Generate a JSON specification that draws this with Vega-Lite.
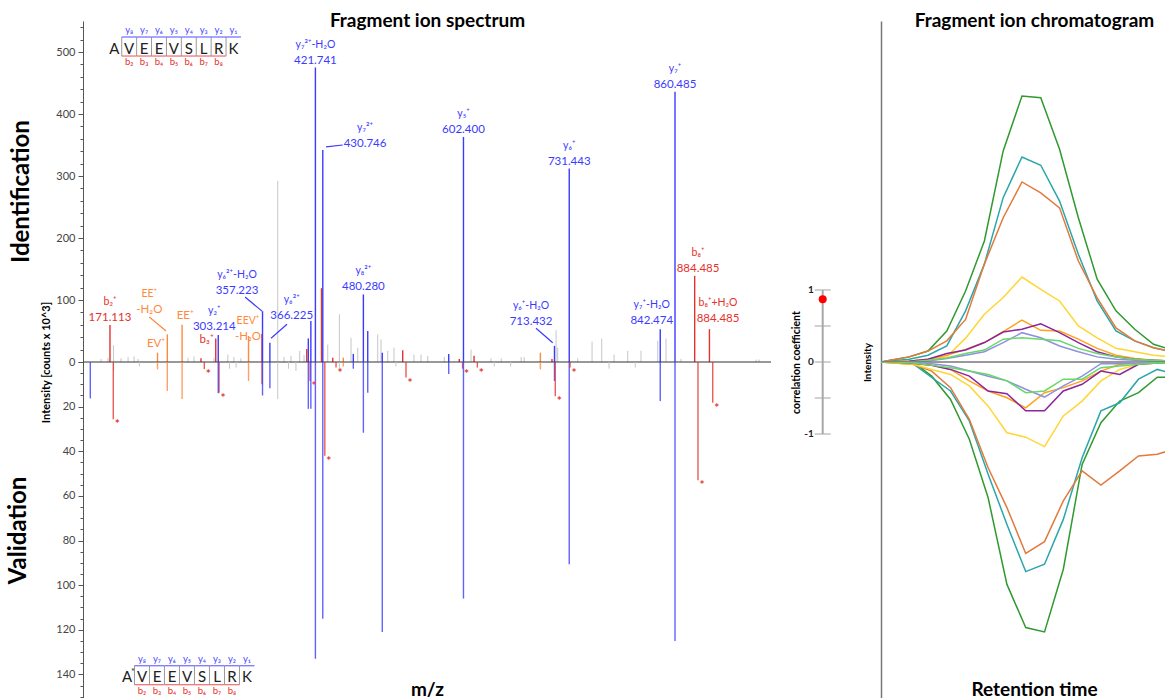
{
  "$schema": "https://vega.github.io/schema/vega-lite/v6.json",
  "background": "white",
  "padding": {"left": 6, "top": 11, "right": 0, "bottom": 0},
  "autosize": {"type": "pad"},
  "config": {
    "view": {"stroke": null},
    "font": "Lato",
    "axis": {"grid": false, "labelFont": "Lato", "titleFont": "Lato"},
    "title": {"font": "Lato"}
  },
  "columns": 3,
  "bounds": "flush",
  "align": "each",
  "spacing": {"row": 0, "column": 0},
  "resolve": {
    "scale": {"x": "independent", "y": "independent", "color": "independent"},
    "axis": {"x": "independent", "y": "independent"}
  },
  "datasets": {
    "identification": [
      {"mz": 160.2, "intensity": 5, "ion": "unassigned"},
      {"mz": 168.7, "intensity": 7, "ion": "unassigned"},
      {"mz": 175.5, "intensity": 27, "ion": "unassigned"},
      {"mz": 184.6, "intensity": 6, "ion": "unassigned"},
      {"mz": 193.2, "intensity": 8, "ion": "unassigned"},
      {"mz": 200.5, "intensity": 9, "ion": "unassigned"},
      {"mz": 205.3, "intensity": 5, "ion": "unassigned"},
      {"mz": 266.3, "intensity": 7, "ion": "unassigned"},
      {"mz": 273.6, "intensity": 9, "ion": "unassigned"},
      {"mz": 298.0, "intensity": 7, "ion": "unassigned"},
      {"mz": 314.9, "intensity": 12, "ion": "unassigned"},
      {"mz": 322.3, "intensity": 8, "ion": "unassigned"},
      {"mz": 330.8, "intensity": 6, "ion": "unassigned"},
      {"mz": 375.8, "intensity": 292, "ion": "unassigned"},
      {"mz": 383.4, "intensity": 8, "ion": "unassigned"},
      {"mz": 392.0, "intensity": 10, "ion": "unassigned"},
      {"mz": 402.6, "intensity": 18, "ion": "unassigned"},
      {"mz": 407.9, "intensity": 11, "ion": "unassigned"},
      {"mz": 436.8, "intensity": 28, "ion": "unassigned"},
      {"mz": 451.0, "intensity": 77, "ion": "unassigned"},
      {"mz": 465.2, "intensity": 39, "ion": "unassigned"},
      {"mz": 473.4, "intensity": 23, "ion": "unassigned"},
      {"mz": 497.8, "intensity": 44.6, "ion": "unassigned"},
      {"mz": 501.8, "intensity": 36.6, "ion": "unassigned"},
      {"mz": 510.0, "intensity": 18, "ion": "unassigned"},
      {"mz": 517.6, "intensity": 23, "ion": "unassigned"},
      {"mz": 542.0, "intensity": 12, "ion": "unassigned"},
      {"mz": 550.6, "intensity": 12, "ion": "unassigned"},
      {"mz": 558.8, "intensity": 10, "ion": "unassigned"},
      {"mz": 579.0, "intensity": 8, "ion": "unassigned"},
      {"mz": 611.6, "intensity": 20, "ion": "unassigned"},
      {"mz": 636.0, "intensity": 6, "ion": "unassigned"},
      {"mz": 648.5, "intensity": 6, "ion": "unassigned"},
      {"mz": 672.8, "intensity": 8, "ion": "unassigned"},
      {"mz": 676.5, "intensity": 8, "ion": "unassigned"},
      {"mz": 715.4, "intensity": 51, "ion": "unassigned"},
      {"mz": 717.4, "intensity": 23, "ion": "unassigned"},
      {"mz": 741.8, "intensity": 6, "ion": "unassigned"},
      {"mz": 759.3, "intensity": 33, "ion": "unassigned"},
      {"mz": 771.1, "intensity": 37.6, "ion": "unassigned"},
      {"mz": 786.1, "intensity": 12, "ion": "unassigned"},
      {"mz": 802.8, "intensity": 18, "ion": "unassigned"},
      {"mz": 819.0, "intensity": 18, "ion": "unassigned"},
      {"mz": 839.4, "intensity": 34, "ion": "unassigned"},
      {"mz": 849.5, "intensity": 38, "ion": "unassigned"},
      {"mz": 867.8, "intensity": 5, "ion": "unassigned"},
      {"mz": 959.3, "intensity": 4, "ion": "unassigned"},
      {"mz": 963.0, "intensity": 4, "ion": "unassigned"},
      {"mz": 171.113, "intensity": 59.7, "ion": "b"},
      {"mz": 229.118, "intensity": 15, "ion": "internal"},
      {"mz": 241.08, "intensity": 44.6, "ion": "internal"},
      {"mz": 259.09, "intensity": 60, "ion": "internal"},
      {"mz": 282.14, "intensity": 6, "ion": "b"},
      {"mz": 300.155, "intensity": 38, "ion": "b"},
      {"mz": 303.214, "intensity": 43.5, "ion": "y"},
      {"mz": 340.15, "intensity": 42, "ion": "internal"},
      {"mz": 356.6, "intensity": 45, "ion": "b"},
      {"mz": 357.223, "intensity": 82, "ion": "y"},
      {"mz": 366.225, "intensity": 31, "ion": "y"},
      {"mz": 411.19, "intensity": 21, "ion": "b"},
      {"mz": 413.1, "intensity": 38, "ion": "y"},
      {"mz": 416.2, "intensity": 66, "ion": "y"},
      {"mz": 421.741, "intensity": 475, "ion": "y"},
      {"mz": 429.198, "intensity": 119, "ion": "b"},
      {"mz": 430.746, "intensity": 342, "ion": "y"},
      {"mz": 442.9, "intensity": 7, "ion": "b"},
      {"mz": 455.8, "intensity": 7, "ion": "internal"},
      {"mz": 468.0, "intensity": 13, "ion": "y"},
      {"mz": 480.28, "intensity": 109, "ion": "y"},
      {"mz": 485.6, "intensity": 50, "ion": "y"},
      {"mz": 503.33, "intensity": 15, "ion": "y"},
      {"mz": 528.266, "intensity": 19, "ion": "b"},
      {"mz": 584.4, "intensity": 13, "ion": "y"},
      {"mz": 597.29, "intensity": 5, "ion": "b"},
      {"mz": 602.4, "intensity": 363, "ion": "y"},
      {"mz": 615.298, "intensity": 10, "ion": "b"},
      {"mz": 696.2, "intensity": 15, "ion": "internal"},
      {"mz": 710.37, "intensity": 5, "ion": "b"},
      {"mz": 713.432, "intensity": 26, "ion": "y"},
      {"mz": 731.443, "intensity": 312, "ion": "y"},
      {"mz": 842.474, "intensity": 53, "ion": "y"},
      {"mz": 860.485, "intensity": 436, "ion": "y"},
      {"mz": 884.485, "intensity": 139, "ion": "b"},
      {"mz": 902.496, "intensity": 53, "ion": "b"}
    ],
    "validation": [
      {"mz": 175.5, "intensity": 4, "ion": "unassigned", "star": false},
      {"mz": 207.0, "intensity": 2, "ion": "unassigned", "star": false},
      {"mz": 317.0, "intensity": 3, "ion": "unassigned", "star": false},
      {"mz": 325.0, "intensity": 2.5, "ion": "unassigned", "star": false},
      {"mz": 375.8, "intensity": 16.6, "ion": "unassigned", "star": false},
      {"mz": 389.0, "intensity": 3, "ion": "unassigned", "star": false},
      {"mz": 398.0, "intensity": 4, "ion": "unassigned", "star": false},
      {"mz": 451.0, "intensity": 3, "ion": "unassigned", "star": false},
      {"mz": 520.0, "intensity": 2, "ion": "unassigned", "star": false},
      {"mz": 640.0, "intensity": 2, "ion": "unassigned", "star": false},
      {"mz": 660.0, "intensity": 2, "ion": "unassigned", "star": false},
      {"mz": 780.0, "intensity": 3, "ion": "unassigned", "star": false},
      {"mz": 812.0, "intensity": 2.5, "ion": "unassigned", "star": false},
      {"mz": 147.113, "intensity": 16.3, "ion": "y", "star": false},
      {"mz": 175.138, "intensity": 25.7, "ion": "b", "star": true},
      {"mz": 229.118, "intensity": 3.3, "ion": "internal", "star": false},
      {"mz": 241.08, "intensity": 13, "ion": "internal", "star": false},
      {"mz": 259.09, "intensity": 16.6, "ion": "internal", "star": false},
      {"mz": 286.17, "intensity": 3.1, "ion": "b", "star": true},
      {"mz": 304.18, "intensity": 13.8, "ion": "b", "star": true},
      {"mz": 303.214, "intensity": 14, "ion": "y", "star": false},
      {"mz": 340.15, "intensity": 8.5, "ion": "internal", "star": false},
      {"mz": 356.6, "intensity": 10, "ion": "b", "star": false},
      {"mz": 357.223, "intensity": 15, "ion": "y", "star": false},
      {"mz": 366.225, "intensity": 11.8, "ion": "y", "star": false},
      {"mz": 415.22, "intensity": 8.5, "ion": "b", "star": true},
      {"mz": 413.1, "intensity": 21, "ion": "y", "star": false},
      {"mz": 416.2, "intensity": 21, "ion": "y", "star": false},
      {"mz": 421.741, "intensity": 133, "ion": "y", "star": false},
      {"mz": 430.746, "intensity": 115, "ion": "y", "star": false},
      {"mz": 433.22, "intensity": 42, "ion": "b", "star": true},
      {"mz": 446.9, "intensity": 2.5, "ion": "b", "star": true},
      {"mz": 455.8, "intensity": 2, "ion": "internal", "star": false},
      {"mz": 468.0, "intensity": 3, "ion": "y", "star": false},
      {"mz": 480.28, "intensity": 31.7, "ion": "y", "star": false},
      {"mz": 485.6, "intensity": 13.8, "ion": "y", "star": false},
      {"mz": 503.33, "intensity": 121, "ion": "y", "star": false},
      {"mz": 532.29, "intensity": 7, "ion": "b", "star": true},
      {"mz": 584.4, "intensity": 5.4, "ion": "y", "star": false},
      {"mz": 601.32, "intensity": 3, "ion": "b", "star": true},
      {"mz": 602.4, "intensity": 106, "ion": "y", "star": false},
      {"mz": 619.32, "intensity": 2.5, "ion": "b", "star": true},
      {"mz": 696.2, "intensity": 3.3, "ion": "internal", "star": false},
      {"mz": 713.432, "intensity": 8.5, "ion": "y", "star": false},
      {"mz": 714.4, "intensity": 15.3, "ion": "b", "star": true},
      {"mz": 731.443, "intensity": 90.6, "ion": "y", "star": false},
      {"mz": 732.41, "intensity": 2.5, "ion": "b", "star": true},
      {"mz": 842.474, "intensity": 17.5, "ion": "y", "star": false},
      {"mz": 860.485, "intensity": 125, "ion": "y", "star": false},
      {"mz": 888.51, "intensity": 53, "ion": "b", "star": true},
      {"mz": 906.52, "intensity": 18.3, "ion": "b", "star": true}
    ],
    "annotations": [
      {"ion": "y", "name": "y₇²⁺-H₂O", "value": "421.741", "labelMz": 421.741, "labelIntensity": 475},
      {"ion": "y", "name": "y₇²⁺", "value": "430.746", "labelMz": 482.3, "labelIntensity": 340.8},
      {"ion": "y", "name": "y₅⁺", "value": "602.400", "labelMz": 602.4, "labelIntensity": 363},
      {"ion": "y", "name": "y₆⁺", "value": "731.443", "labelMz": 731.443, "labelIntensity": 312},
      {"ion": "y", "name": "y₇⁺", "value": "860.485", "labelMz": 860.485, "labelIntensity": 436},
      {"ion": "b", "name": "b₈⁺", "value": "884.485", "labelMz": 888.6, "labelIntensity": 139},
      {"ion": "b", "name": "b₈⁺+H₂O", "value": "884.485", "labelMz": 913.0, "labelIntensity": 58},
      {"ion": "y", "name": "y₇⁺-H₂O", "value": "842.474", "labelMz": 832.1, "labelIntensity": 55.3},
      {"ion": "y", "name": "y₆⁺-H₂O", "value": "713.432", "labelMz": 684.8, "labelIntensity": 53.2},
      {"ion": "y", "name": "y₈²⁺", "value": "480.280", "labelMz": 480.28, "labelIntensity": 109},
      {"ion": "y", "name": "y₆²⁺", "value": "366.225", "labelMz": 392.8, "labelIntensity": 62.4},
      {"ion": "y", "name": "y₆²⁺-H₂O", "value": "357.223", "labelMz": 326.1, "labelIntensity": 103.7},
      {"ion": "y", "name": "y₂⁺", "value": "303.214", "labelMz": 298.4, "labelIntensity": 44.7},
      {"ion": "b", "name": "", "value": "b₃⁺", "labelMz": 289.1, "labelIntensity": 24.7},
      {"ion": "b", "name": "b₂⁺", "value": "171.113", "labelMz": 171.113, "labelIntensity": 59.7},
      {"ion": "internal", "name": "EE⁺", "value": "-H₂O", "labelMz": 219.1, "labelIntensity": 73},
      {"ion": "internal", "name": "", "value": "EV⁺", "labelMz": 227.3, "labelIntensity": 17.7},
      {"ion": "internal", "name": "", "value": "EE⁺", "labelMz": 263.0, "labelIntensity": 62.4},
      {"ion": "internal", "name": "EEV⁺", "value": "-H₂O", "labelMz": 339.5, "labelIntensity": 28.5}
    ],
    "leaders": [
      {"ion": "y", "mz": 434.7, "intensity": 347, "labelMz": 455.1, "labelIntensity": 350},
      {"ion": "y", "mz": 711.3, "intensity": 31.1, "labelMz": 690.9, "labelIntensity": 54.4},
      {"ion": "y", "mz": 367.6, "intensity": 38.2, "labelMz": 387.1, "labelIntensity": 60.8},
      {"ion": "y", "mz": 356.6, "intensity": 82, "labelMz": 335.9, "labelIntensity": 104.8},
      {"ion": "internal", "mz": 239.5, "intensity": 50, "labelMz": 219.1, "labelIntensity": 72.6}
    ],
    "sequence": [
      {"residue": "A", "position": 1, "start": 0.5, "end": 1.5, "yIon": "", "bIon": ""},
      {"residue": "V", "position": 2, "start": 1.5, "end": 2.5, "yIon": "y₈", "bIon": "b₂"},
      {"residue": "E", "position": 3, "start": 2.5, "end": 3.5, "yIon": "y₇", "bIon": "b₃"},
      {"residue": "E", "position": 4, "start": 3.5, "end": 4.5, "yIon": "y₆", "bIon": "b₄"},
      {"residue": "V", "position": 5, "start": 4.5, "end": 5.5, "yIon": "y₅", "bIon": "b₅"},
      {"residue": "S", "position": 6, "start": 5.5, "end": 6.5, "yIon": "y₄", "bIon": "b₆"},
      {"residue": "L", "position": 7, "start": 6.5, "end": 7.5, "yIon": "y₃", "bIon": "b₇"},
      {"residue": "R", "position": 8, "start": 7.5, "end": 8.5, "yIon": "y₂", "bIon": "b₈"},
      {"residue": "K", "position": 9, "start": 8.5, "end": 9.5, "yIon": "y₁", "bIon": ""}
    ],
    "modification": [{"position": 1, "symbol": "*"}],
    "correlation": [{"coefficient": 0.87}],
    "corrScale": [
      {"value": 1, "label": "1"},
      {"value": 0.5, "label": ""},
      {"value": 0, "label": "0"},
      {"value": -0.5, "label": ""},
      {"value": -1, "label": "-1"}
    ],
    "chromatogram": [
      {"run": "identification", "trace": "trace 1", "rt": 29.95, "intensity": 0},
      {"run": "identification", "trace": "trace 1", "rt": 30.0, "intensity": 0.5},
      {"run": "identification", "trace": "trace 1", "rt": 30.1, "intensity": 1.5},
      {"run": "identification", "trace": "trace 1", "rt": 30.2, "intensity": 3.2},
      {"run": "identification", "trace": "trace 1", "rt": 30.3, "intensity": 9.1},
      {"run": "identification", "trace": "trace 1", "rt": 30.4, "intensity": 20.8},
      {"run": "identification", "trace": "trace 1", "rt": 30.5, "intensity": 35.5},
      {"run": "identification", "trace": "trace 1", "rt": 30.6, "intensity": 61.9},
      {"run": "identification", "trace": "trace 1", "rt": 30.7, "intensity": 78},
      {"run": "identification", "trace": "trace 1", "rt": 30.8, "intensity": 77.5},
      {"run": "identification", "trace": "trace 1", "rt": 30.9, "intensity": 62.4},
      {"run": "identification", "trace": "trace 1", "rt": 31.0, "intensity": 42.3},
      {"run": "identification", "trace": "trace 1", "rt": 31.1, "intensity": 24.3},
      {"run": "identification", "trace": "trace 1", "rt": 31.2, "intensity": 15},
      {"run": "identification", "trace": "trace 1", "rt": 31.3, "intensity": 9.6},
      {"run": "identification", "trace": "trace 1", "rt": 31.4, "intensity": 5.2},
      {"run": "identification", "trace": "trace 1", "rt": 31.5, "intensity": 3.5},
      {"run": "identification", "trace": "trace 2", "rt": 29.95, "intensity": 0},
      {"run": "identification", "trace": "trace 2", "rt": 30.0, "intensity": 0.3},
      {"run": "identification", "trace": "trace 2", "rt": 30.1, "intensity": 0.8},
      {"run": "identification", "trace": "trace 2", "rt": 30.2, "intensity": 2},
      {"run": "identification", "trace": "trace 2", "rt": 30.3, "intensity": 4.7},
      {"run": "identification", "trace": "trace 2", "rt": 30.4, "intensity": 15},
      {"run": "identification", "trace": "trace 2", "rt": 30.5, "intensity": 28.7},
      {"run": "identification", "trace": "trace 2", "rt": 30.6, "intensity": 48.2},
      {"run": "identification", "trace": "trace 2", "rt": 30.7, "intensity": 60.1},
      {"run": "identification", "trace": "trace 2", "rt": 30.8, "intensity": 57.7},
      {"run": "identification", "trace": "trace 2", "rt": 30.9, "intensity": 47.2},
      {"run": "identification", "trace": "trace 2", "rt": 31.0, "intensity": 31.6},
      {"run": "identification", "trace": "trace 2", "rt": 31.1, "intensity": 17.9},
      {"run": "identification", "trace": "trace 2", "rt": 31.2, "intensity": 9.1},
      {"run": "identification", "trace": "trace 2", "rt": 31.3, "intensity": 6.2},
      {"run": "identification", "trace": "trace 2", "rt": 31.4, "intensity": 4.2},
      {"run": "identification", "trace": "trace 2", "rt": 31.5, "intensity": 3},
      {"run": "identification", "trace": "trace 3", "rt": 29.95, "intensity": 0},
      {"run": "identification", "trace": "trace 3", "rt": 30.0, "intensity": 0.5},
      {"run": "identification", "trace": "trace 3", "rt": 30.1, "intensity": 1.5},
      {"run": "identification", "trace": "trace 3", "rt": 30.2, "intensity": 3.2},
      {"run": "identification", "trace": "trace 3", "rt": 30.3, "intensity": 6.2},
      {"run": "identification", "trace": "trace 3", "rt": 30.4, "intensity": 12.5},
      {"run": "identification", "trace": "trace 3", "rt": 30.5, "intensity": 28.7},
      {"run": "identification", "trace": "trace 3", "rt": 30.6, "intensity": 42.3},
      {"run": "identification", "trace": "trace 3", "rt": 30.7, "intensity": 52.8},
      {"run": "identification", "trace": "trace 3", "rt": 30.8, "intensity": 49.6},
      {"run": "identification", "trace": "trace 3", "rt": 30.9, "intensity": 45.2},
      {"run": "identification", "trace": "trace 3", "rt": 31.0, "intensity": 29.6},
      {"run": "identification", "trace": "trace 3", "rt": 31.1, "intensity": 18.8},
      {"run": "identification", "trace": "trace 3", "rt": 31.2, "intensity": 10},
      {"run": "identification", "trace": "trace 3", "rt": 31.3, "intensity": 6.2},
      {"run": "identification", "trace": "trace 3", "rt": 31.4, "intensity": 4.2},
      {"run": "identification", "trace": "trace 3", "rt": 31.5, "intensity": 3},
      {"run": "identification", "trace": "trace 4", "rt": 29.95, "intensity": 0},
      {"run": "identification", "trace": "trace 4", "rt": 30.0, "intensity": 0},
      {"run": "identification", "trace": "trace 4", "rt": 30.1, "intensity": 0.3},
      {"run": "identification", "trace": "trace 4", "rt": 30.2, "intensity": 0.8},
      {"run": "identification", "trace": "trace 4", "rt": 30.3, "intensity": 1.5},
      {"run": "identification", "trace": "trace 4", "rt": 30.4, "intensity": 7},
      {"run": "identification", "trace": "trace 4", "rt": 30.5, "intensity": 14},
      {"run": "identification", "trace": "trace 4", "rt": 30.6, "intensity": 18.9},
      {"run": "identification", "trace": "trace 4", "rt": 30.7, "intensity": 24.9},
      {"run": "identification", "trace": "trace 4", "rt": 30.8, "intensity": 21.3},
      {"run": "identification", "trace": "trace 4", "rt": 30.9, "intensity": 17.9},
      {"run": "identification", "trace": "trace 4", "rt": 31.0, "intensity": 10.6},
      {"run": "identification", "trace": "trace 4", "rt": 31.1, "intensity": 7.1},
      {"run": "identification", "trace": "trace 4", "rt": 31.2, "intensity": 4},
      {"run": "identification", "trace": "trace 4", "rt": 31.3, "intensity": 3},
      {"run": "identification", "trace": "trace 4", "rt": 31.4, "intensity": 2},
      {"run": "identification", "trace": "trace 4", "rt": 31.5, "intensity": 1.5},
      {"run": "identification", "trace": "trace 5", "rt": 29.95, "intensity": 0},
      {"run": "identification", "trace": "trace 5", "rt": 30.0, "intensity": 0},
      {"run": "identification", "trace": "trace 5", "rt": 30.1, "intensity": 0.2},
      {"run": "identification", "trace": "trace 5", "rt": 30.2, "intensity": 0.8},
      {"run": "identification", "trace": "trace 5", "rt": 30.3, "intensity": 2},
      {"run": "identification", "trace": "trace 5", "rt": 30.4, "intensity": 3.7},
      {"run": "identification", "trace": "trace 5", "rt": 30.5, "intensity": 5.7},
      {"run": "identification", "trace": "trace 5", "rt": 30.6, "intensity": 8.9},
      {"run": "identification", "trace": "trace 5", "rt": 30.7, "intensity": 12.3},
      {"run": "identification", "trace": "trace 5", "rt": 30.8, "intensity": 9.3},
      {"run": "identification", "trace": "trace 5", "rt": 30.9, "intensity": 9.1},
      {"run": "identification", "trace": "trace 5", "rt": 31.0, "intensity": 6.7},
      {"run": "identification", "trace": "trace 5", "rt": 31.1, "intensity": 4},
      {"run": "identification", "trace": "trace 5", "rt": 31.2, "intensity": 2},
      {"run": "identification", "trace": "trace 5", "rt": 31.3, "intensity": 1},
      {"run": "identification", "trace": "trace 5", "rt": 31.4, "intensity": 0.5},
      {"run": "identification", "trace": "trace 5", "rt": 31.5, "intensity": 0.3},
      {"run": "identification", "trace": "trace 6", "rt": 29.95, "intensity": 0},
      {"run": "identification", "trace": "trace 6", "rt": 30.0, "intensity": 0},
      {"run": "identification", "trace": "trace 6", "rt": 30.1, "intensity": 0.2},
      {"run": "identification", "trace": "trace 6", "rt": 30.2, "intensity": 0.8},
      {"run": "identification", "trace": "trace 6", "rt": 30.3, "intensity": 2.5},
      {"run": "identification", "trace": "trace 6", "rt": 30.4, "intensity": 3.5},
      {"run": "identification", "trace": "trace 6", "rt": 30.5, "intensity": 5.7},
      {"run": "identification", "trace": "trace 6", "rt": 30.6, "intensity": 8.8},
      {"run": "identification", "trace": "trace 6", "rt": 30.7, "intensity": 9.6},
      {"run": "identification", "trace": "trace 6", "rt": 30.8, "intensity": 11.2},
      {"run": "identification", "trace": "trace 6", "rt": 30.9, "intensity": 8.6},
      {"run": "identification", "trace": "trace 6", "rt": 31.0, "intensity": 5.7},
      {"run": "identification", "trace": "trace 6", "rt": 31.1, "intensity": 3},
      {"run": "identification", "trace": "trace 6", "rt": 31.2, "intensity": 1.5},
      {"run": "identification", "trace": "trace 6", "rt": 31.3, "intensity": 0.8},
      {"run": "identification", "trace": "trace 6", "rt": 31.4, "intensity": 0.5},
      {"run": "identification", "trace": "trace 6", "rt": 31.5, "intensity": 0.3},
      {"run": "identification", "trace": "trace 7", "rt": 29.95, "intensity": 0},
      {"run": "identification", "trace": "trace 7", "rt": 30.0, "intensity": 0},
      {"run": "identification", "trace": "trace 7", "rt": 30.1, "intensity": 0},
      {"run": "identification", "trace": "trace 7", "rt": 30.2, "intensity": 0.3},
      {"run": "identification", "trace": "trace 7", "rt": 30.3, "intensity": 1},
      {"run": "identification", "trace": "trace 7", "rt": 30.4, "intensity": 2},
      {"run": "identification", "trace": "trace 7", "rt": 30.5, "intensity": 3},
      {"run": "identification", "trace": "trace 7", "rt": 30.6, "intensity": 5.7},
      {"run": "identification", "trace": "trace 7", "rt": 30.7, "intensity": 8.6},
      {"run": "identification", "trace": "trace 7", "rt": 30.8, "intensity": 7.1},
      {"run": "identification", "trace": "trace 7", "rt": 30.9, "intensity": 4.7},
      {"run": "identification", "trace": "trace 7", "rt": 31.0, "intensity": 3},
      {"run": "identification", "trace": "trace 7", "rt": 31.1, "intensity": 1.5},
      {"run": "identification", "trace": "trace 7", "rt": 31.2, "intensity": 0.8},
      {"run": "identification", "trace": "trace 7", "rt": 31.3, "intensity": 0.5},
      {"run": "identification", "trace": "trace 7", "rt": 31.4, "intensity": 0.3},
      {"run": "identification", "trace": "trace 7", "rt": 31.5, "intensity": 0.2},
      {"run": "identification", "trace": "trace 8", "rt": 29.95, "intensity": 0},
      {"run": "identification", "trace": "trace 8", "rt": 30.0, "intensity": 0},
      {"run": "identification", "trace": "trace 8", "rt": 30.1, "intensity": 0},
      {"run": "identification", "trace": "trace 8", "rt": 30.2, "intensity": 0.5},
      {"run": "identification", "trace": "trace 8", "rt": 30.3, "intensity": 1.2},
      {"run": "identification", "trace": "trace 8", "rt": 30.4, "intensity": 2.5},
      {"run": "identification", "trace": "trace 8", "rt": 30.5, "intensity": 3.5},
      {"run": "identification", "trace": "trace 8", "rt": 30.6, "intensity": 6.7},
      {"run": "identification", "trace": "trace 8", "rt": 30.7, "intensity": 7.1},
      {"run": "identification", "trace": "trace 8", "rt": 30.8, "intensity": 6.7},
      {"run": "identification", "trace": "trace 8", "rt": 30.9, "intensity": 6.2},
      {"run": "identification", "trace": "trace 8", "rt": 31.0, "intensity": 4},
      {"run": "identification", "trace": "trace 8", "rt": 31.1, "intensity": 2.5},
      {"run": "identification", "trace": "trace 8", "rt": 31.2, "intensity": 1.5},
      {"run": "identification", "trace": "trace 8", "rt": 31.3, "intensity": 0.8},
      {"run": "identification", "trace": "trace 8", "rt": 31.4, "intensity": 0.5},
      {"run": "identification", "trace": "trace 8", "rt": 31.5, "intensity": 0.3},
      {"run": "validation", "trace": "trace 1", "rt": 29.95, "intensity": 0},
      {"run": "validation", "trace": "trace 1", "rt": 30.02, "intensity": 0},
      {"run": "validation", "trace": "trace 1", "rt": 30.12, "intensity": 0},
      {"run": "validation", "trace": "trace 1", "rt": 30.22, "intensity": 4.2},
      {"run": "validation", "trace": "trace 1", "rt": 30.32, "intensity": 11.1},
      {"run": "validation", "trace": "trace 1", "rt": 30.42, "intensity": 22.9},
      {"run": "validation", "trace": "trace 1", "rt": 30.52, "intensity": 40.3},
      {"run": "validation", "trace": "trace 1", "rt": 30.62, "intensity": 66},
      {"run": "validation", "trace": "trace 1", "rt": 30.72, "intensity": 78.8},
      {"run": "validation", "trace": "trace 1", "rt": 30.82, "intensity": 80.1},
      {"run": "validation", "trace": "trace 1", "rt": 30.92, "intensity": 61.5},
      {"run": "validation", "trace": "trace 1", "rt": 31.02, "intensity": 30.4},
      {"run": "validation", "trace": "trace 1", "rt": 31.12, "intensity": 18},
      {"run": "validation", "trace": "trace 1", "rt": 31.22, "intensity": 11.6},
      {"run": "validation", "trace": "trace 1", "rt": 31.32, "intensity": 9.1},
      {"run": "validation", "trace": "trace 1", "rt": 31.42, "intensity": 4.5},
      {"run": "validation", "trace": "trace 1", "rt": 31.52, "intensity": 4.5},
      {"run": "validation", "trace": "trace 2", "rt": 29.95, "intensity": 0},
      {"run": "validation", "trace": "trace 2", "rt": 30.02, "intensity": 0},
      {"run": "validation", "trace": "trace 2", "rt": 30.12, "intensity": 0.5},
      {"run": "validation", "trace": "trace 2", "rt": 30.22, "intensity": 4.6},
      {"run": "validation", "trace": "trace 2", "rt": 30.32, "intensity": 8.6},
      {"run": "validation", "trace": "trace 2", "rt": 30.42, "intensity": 17.5},
      {"run": "validation", "trace": "trace 2", "rt": 30.52, "intensity": 33.3},
      {"run": "validation", "trace": "trace 2", "rt": 30.62, "intensity": 48.2},
      {"run": "validation", "trace": "trace 2", "rt": 30.72, "intensity": 62.2},
      {"run": "validation", "trace": "trace 2", "rt": 30.82, "intensity": 60},
      {"run": "validation", "trace": "trace 2", "rt": 30.92, "intensity": 46.7},
      {"run": "validation", "trace": "trace 2", "rt": 31.02, "intensity": 28.4},
      {"run": "validation", "trace": "trace 2", "rt": 31.12, "intensity": 14.5},
      {"run": "validation", "trace": "trace 2", "rt": 31.22, "intensity": 12.1},
      {"run": "validation", "trace": "trace 2", "rt": 31.32, "intensity": 5.1},
      {"run": "validation", "trace": "trace 2", "rt": 31.42, "intensity": 2.2},
      {"run": "validation", "trace": "trace 2", "rt": 31.52, "intensity": 3.7},
      {"run": "validation", "trace": "trace 3", "rt": 29.95, "intensity": 0},
      {"run": "validation", "trace": "trace 3", "rt": 30.02, "intensity": 0.3},
      {"run": "validation", "trace": "trace 3", "rt": 30.12, "intensity": 0.7},
      {"run": "validation", "trace": "trace 3", "rt": 30.22, "intensity": 2.7},
      {"run": "validation", "trace": "trace 3", "rt": 30.32, "intensity": 7.6},
      {"run": "validation", "trace": "trace 3", "rt": 30.42, "intensity": 17},
      {"run": "validation", "trace": "trace 3", "rt": 30.52, "intensity": 31.4},
      {"run": "validation", "trace": "trace 3", "rt": 30.62, "intensity": 43.2},
      {"run": "validation", "trace": "trace 3", "rt": 30.72, "intensity": 56.8},
      {"run": "validation", "trace": "trace 3", "rt": 30.82, "intensity": 53.3},
      {"run": "validation", "trace": "trace 3", "rt": 30.92, "intensity": 41.2},
      {"run": "validation", "trace": "trace 3", "rt": 31.02, "intensity": 32.3},
      {"run": "validation", "trace": "trace 3", "rt": 31.12, "intensity": 36.5},
      {"run": "validation", "trace": "trace 3", "rt": 31.22, "intensity": 32.3},
      {"run": "validation", "trace": "trace 3", "rt": 31.32, "intensity": 27.9},
      {"run": "validation", "trace": "trace 3", "rt": 31.42, "intensity": 27.4},
      {"run": "validation", "trace": "trace 3", "rt": 31.52, "intensity": 25.6},
      {"run": "validation", "trace": "trace 4", "rt": 29.95, "intensity": 0},
      {"run": "validation", "trace": "trace 4", "rt": 30.02, "intensity": 0.3},
      {"run": "validation", "trace": "trace 4", "rt": 30.12, "intensity": 0.7},
      {"run": "validation", "trace": "trace 4", "rt": 30.22, "intensity": 2.2},
      {"run": "validation", "trace": "trace 4", "rt": 30.32, "intensity": 3.7},
      {"run": "validation", "trace": "trace 4", "rt": 30.42, "intensity": 7.1},
      {"run": "validation", "trace": "trace 4", "rt": 30.52, "intensity": 13.1},
      {"run": "validation", "trace": "trace 4", "rt": 30.62, "intensity": 21},
      {"run": "validation", "trace": "trace 4", "rt": 30.72, "intensity": 22.3},
      {"run": "validation", "trace": "trace 4", "rt": 30.82, "intensity": 25.1},
      {"run": "validation", "trace": "trace 4", "rt": 30.92, "intensity": 16},
      {"run": "validation", "trace": "trace 4", "rt": 31.02, "intensity": 11.6},
      {"run": "validation", "trace": "trace 4", "rt": 31.12, "intensity": 5.6},
      {"run": "validation", "trace": "trace 4", "rt": 31.22, "intensity": 2.2},
      {"run": "validation", "trace": "trace 4", "rt": 31.32, "intensity": 0.7},
      {"run": "validation", "trace": "trace 4", "rt": 31.42, "intensity": 0.3},
      {"run": "validation", "trace": "trace 4", "rt": 31.52, "intensity": 0.2},
      {"run": "validation", "trace": "trace 5", "rt": 29.95, "intensity": 0},
      {"run": "validation", "trace": "trace 5", "rt": 30.02, "intensity": 0.3},
      {"run": "validation", "trace": "trace 5", "rt": 30.12, "intensity": 0.5},
      {"run": "validation", "trace": "trace 5", "rt": 30.22, "intensity": 1},
      {"run": "validation", "trace": "trace 5", "rt": 30.32, "intensity": 2.2},
      {"run": "validation", "trace": "trace 5", "rt": 30.42, "intensity": 5.6},
      {"run": "validation", "trace": "trace 5", "rt": 30.52, "intensity": 8.6},
      {"run": "validation", "trace": "trace 5", "rt": 30.62, "intensity": 10.6},
      {"run": "validation", "trace": "trace 5", "rt": 30.72, "intensity": 13.6},
      {"run": "validation", "trace": "trace 5", "rt": 30.82, "intensity": 9.1},
      {"run": "validation", "trace": "trace 5", "rt": 30.92, "intensity": 7.6},
      {"run": "validation", "trace": "trace 5", "rt": 31.02, "intensity": 5.6},
      {"run": "validation", "trace": "trace 5", "rt": 31.12, "intensity": 2.7},
      {"run": "validation", "trace": "trace 5", "rt": 31.22, "intensity": 0.7},
      {"run": "validation", "trace": "trace 5", "rt": 31.32, "intensity": 0.3},
      {"run": "validation", "trace": "trace 5", "rt": 31.42, "intensity": 0.2},
      {"run": "validation", "trace": "trace 5", "rt": 31.52, "intensity": 0.2},
      {"run": "validation", "trace": "trace 6", "rt": 29.95, "intensity": 0},
      {"run": "validation", "trace": "trace 6", "rt": 30.02, "intensity": 0},
      {"run": "validation", "trace": "trace 6", "rt": 30.12, "intensity": 0.3},
      {"run": "validation", "trace": "trace 6", "rt": 30.22, "intensity": 1},
      {"run": "validation", "trace": "trace 6", "rt": 30.32, "intensity": 2.2},
      {"run": "validation", "trace": "trace 6", "rt": 30.42, "intensity": 4.2},
      {"run": "validation", "trace": "trace 6", "rt": 30.52, "intensity": 8.6},
      {"run": "validation", "trace": "trace 6", "rt": 30.62, "intensity": 9.4},
      {"run": "validation", "trace": "trace 6", "rt": 30.72, "intensity": 14.5},
      {"run": "validation", "trace": "trace 6", "rt": 30.82, "intensity": 14.5},
      {"run": "validation", "trace": "trace 6", "rt": 30.92, "intensity": 8.6},
      {"run": "validation", "trace": "trace 6", "rt": 31.02, "intensity": 6.6},
      {"run": "validation", "trace": "trace 6", "rt": 31.12, "intensity": 2.7},
      {"run": "validation", "trace": "trace 6", "rt": 31.22, "intensity": 3.7},
      {"run": "validation", "trace": "trace 6", "rt": 31.32, "intensity": 0.7},
      {"run": "validation", "trace": "trace 6", "rt": 31.42, "intensity": 0.3},
      {"run": "validation", "trace": "trace 6", "rt": 31.52, "intensity": 0.2},
      {"run": "validation", "trace": "trace 7", "rt": 29.95, "intensity": 0},
      {"run": "validation", "trace": "trace 7", "rt": 30.02, "intensity": 0},
      {"run": "validation", "trace": "trace 7", "rt": 30.12, "intensity": 0},
      {"run": "validation", "trace": "trace 7", "rt": 30.22, "intensity": 0.5},
      {"run": "validation", "trace": "trace 7", "rt": 30.32, "intensity": 1.2},
      {"run": "validation", "trace": "trace 7", "rt": 30.42, "intensity": 2.7},
      {"run": "validation", "trace": "trace 7", "rt": 30.52, "intensity": 4.2},
      {"run": "validation", "trace": "trace 7", "rt": 30.62, "intensity": 5.6},
      {"run": "validation", "trace": "trace 7", "rt": 30.72, "intensity": 8.1},
      {"run": "validation", "trace": "trace 7", "rt": 30.82, "intensity": 10.4},
      {"run": "validation", "trace": "trace 7", "rt": 30.92, "intensity": 7.1},
      {"run": "validation", "trace": "trace 7", "rt": 31.02, "intensity": 4.2},
      {"run": "validation", "trace": "trace 7", "rt": 31.12, "intensity": 0.5},
      {"run": "validation", "trace": "trace 7", "rt": 31.22, "intensity": 0.5},
      {"run": "validation", "trace": "trace 7", "rt": 31.32, "intensity": 0.3},
      {"run": "validation", "trace": "trace 7", "rt": 31.42, "intensity": 0.2},
      {"run": "validation", "trace": "trace 7", "rt": 31.52, "intensity": 0.2},
      {"run": "validation", "trace": "trace 8", "rt": 29.95, "intensity": 0},
      {"run": "validation", "trace": "trace 8", "rt": 30.02, "intensity": 0},
      {"run": "validation", "trace": "trace 8", "rt": 30.12, "intensity": 0.3},
      {"run": "validation", "trace": "trace 8", "rt": 30.22, "intensity": 1},
      {"run": "validation", "trace": "trace 8", "rt": 30.32, "intensity": 1.7},
      {"run": "validation", "trace": "trace 8", "rt": 30.42, "intensity": 2.7},
      {"run": "validation", "trace": "trace 8", "rt": 30.52, "intensity": 3.7},
      {"run": "validation", "trace": "trace 8", "rt": 30.62, "intensity": 5.6},
      {"run": "validation", "trace": "trace 8", "rt": 30.72, "intensity": 9.1},
      {"run": "validation", "trace": "trace 8", "rt": 30.82, "intensity": 8.6},
      {"run": "validation", "trace": "trace 8", "rt": 30.92, "intensity": 5.1},
      {"run": "validation", "trace": "trace 8", "rt": 31.02, "intensity": 5.1},
      {"run": "validation", "trace": "trace 8", "rt": 31.12, "intensity": 1.7},
      {"run": "validation", "trace": "trace 8", "rt": 31.22, "intensity": 1.2},
      {"run": "validation", "trace": "trace 8", "rt": 31.32, "intensity": 0.7},
      {"run": "validation", "trace": "trace 8", "rt": 31.42, "intensity": 0.3},
      {"run": "validation", "trace": "trace 8", "rt": 31.52, "intensity": 0.3}
    ]
  },
  "concat": [
    {
      "width": 688,
      "height": 341,
      "title": {"text": "Identification", "orient": "left", "anchor": "middle", "fontSize": 24, "fontWeight": "bold", "color": "#000000", "offset": 6},
      "resolve": {"scale": {"x": "independent"}},
      "layer": [
        {
          "data": {"name": "identification"},
          "transform": [{"filter": "datum.ion === 'unassigned'"}],
          "mark": {"type": "rule", "color": "#c6c6c6", "strokeWidth": 1},
          "encoding": {
            "x": {"field": "mz", "type": "quantitative", "scale": {"domain": [138.2, 977.6], "nice": false, "zero": false},
              "axis": {"orient": "top", "title": "Fragment ion spectrum", "domain": false, "ticks": false, "labels": false, "titleFontSize": 19, "titleFontWeight": "bold", "titleColor": "#000000", "titleBaseline": "alphabetic", "titleY": 5}},
            "y": {"field": "intensity", "type": "quantitative", "scale": {"domain": [0, 550], "nice": false},
              "axis": {"title": "Intensity [counts x 10^3]", "titleFontSize": 11, "titleFontWeight": "bold", "titleColor": "#000000", "titleX": -37, "titleY": 341, "titleBaseline": "middle", "titleAngle": 270,
                "values": [0, 20, 40, 60, 80, 100, 120, 140, 160, 180, 200, 220, 240, 260, 280, 300, 320, 340, 360, 380, 400, 420, 440, 460, 480, 500, 520, 540],
                "tickCount": 100,
                "labelExpr": "datum.value % 100 === 0 ? datum.label : ''",
                "labelFontSize": 11,
                "tickSize": {"condition": {"test": "datum.value % 100 === 0", "value": 5}, "value": 3},
                "domainColor": "#555555", "tickColor": "#555555", "labelColor": "#444444", "labelPadding": 3, "labelFlush": false, "labelOverlap": false, "labelBound": false}},
            "y2": {"datum": 0}
          }
        },
        {
          "data": {"name": "identification"},
          "transform": [{"filter": "datum.ion !== 'unassigned'"}],
          "mark": {"type": "rule", "strokeWidth": 1.4},
          "encoding": {
            "x": {"field": "mz", "type": "quantitative", "scale": {"domain": [138.2, 977.6], "nice": false, "zero": false}, "axis": null},
            "y": {"field": "intensity", "type": "quantitative"},
            "y2": {"datum": 0},
            "color": {"field": "ion", "type": "nominal", "scale": {"domain": ["y", "b", "internal"], "range": ["#3b3bff", "#e5322d", "#ff8a3d"]}, "legend": null}
          }
        },
        {
          "data": {"values": [{"intensity": 0}]},
          "mark": {"type": "rule", "color": "#333333", "strokeWidth": 1.2},
          "encoding": {"y": {"field": "intensity", "type": "quantitative"}}
        },
        {
          "data": {"name": "leaders"},
          "mark": {"type": "rule", "strokeWidth": 1.2},
          "encoding": {
            "x": {"field": "mz", "type": "quantitative", "scale": {"domain": [138.2, 977.6], "nice": false, "zero": false}, "axis": null},
            "x2": {"field": "labelMz"},
            "y": {"field": "intensity", "type": "quantitative"},
            "y2": {"field": "labelIntensity"},
            "color": {"field": "ion", "type": "nominal", "legend": null}
          }
        },
        {
          "data": {"name": "annotations"},
          "mark": {"type": "text", "fontSize": 10.5, "dy": -20, "baseline": "alphabetic", "align": "center"},
          "encoding": {
            "x": {"field": "labelMz", "type": "quantitative", "scale": {"domain": [138.2, 977.6], "nice": false, "zero": false}, "axis": null},
            "y": {"field": "labelIntensity", "type": "quantitative"},
            "text": {"field": "name"},
            "color": {"field": "ion", "type": "nominal", "legend": null}
          }
        },
        {
          "data": {"name": "annotations"},
          "mark": {"type": "text", "fontSize": 11.5, "dy": -4, "baseline": "alphabetic", "align": "center"},
          "encoding": {
            "x": {"field": "labelMz", "type": "quantitative", "scale": {"domain": [138.2, 977.6], "nice": false, "zero": false}, "axis": null},
            "y": {"field": "labelIntensity", "type": "quantitative"},
            "text": {"field": "value"},
            "color": {"field": "ion", "type": "nominal", "legend": null}
          }
        },
        {
          "data": {"name": "sequence"},
          "transform": [{"filter": "datum.yIon !== ''"}],
          "mark": {"type": "rule", "color": "#9a9a9a", "strokeWidth": 1},
          "encoding": {
            "x": {"field": "start", "type": "quantitative", "scale": {"domain": [-1.1, 45.07], "nice": false, "zero": false}, "axis": null},
            "y": {"datum": 493.5},
            "y2": {"datum": 524.2}
          }
        },
        {
          "data": {"name": "sequence"},
          "transform": [{"filter": "datum.yIon !== ''"}],
          "mark": {"type": "rule", "color": "#6b6bff", "strokeWidth": 1.2},
          "encoding": {
            "x": {"field": "start", "type": "quantitative", "scale": {"domain": [-1.1, 45.07], "nice": false, "zero": false}, "axis": null},
            "x2": {"field": "end"},
            "y": {"datum": 524.2}
          }
        },
        {
          "data": {"name": "sequence"},
          "transform": [{"filter": "datum.bIon !== ''"}],
          "mark": {"type": "rule", "color": "#f06a6a", "strokeWidth": 1.2},
          "encoding": {
            "x": {"field": "start", "type": "quantitative", "scale": {"domain": [-1.1, 45.07], "nice": false, "zero": false}, "axis": null},
            "x2": {"field": "end"},
            "y": {"datum": 493.5}
          }
        },
        {
          "data": {"name": "sequence"},
          "mark": {"type": "text", "fontSize": 15, "color": "#222222", "baseline": "alphabetic", "align": "center"},
          "encoding": {
            "x": {"field": "position", "type": "quantitative", "scale": {"domain": [-1.1, 45.07], "nice": false, "zero": false}, "axis": null},
            "y": {"datum": 496.3},
            "text": {"field": "residue"}
          }
        },
        {
          "data": {"name": "sequence"},
          "mark": {"type": "text", "fontSize": 9.5, "color": "#4a4aff", "baseline": "alphabetic", "align": "center", "dy": -4},
          "encoding": {
            "x": {"field": "position", "type": "quantitative", "scale": {"domain": [-1.1, 45.07], "nice": false, "zero": false}, "axis": null},
            "y": {"datum": 524.2},
            "text": {"field": "yIon"}
          }
        },
        {
          "data": {"name": "sequence"},
          "mark": {"type": "text", "fontSize": 9.5, "color": "#e5322d", "baseline": "alphabetic", "align": "center", "dy": 9},
          "encoding": {
            "x": {"field": "position", "type": "quantitative", "scale": {"domain": [-1.1, 45.07], "nice": false, "zero": false}, "axis": null},
            "y": {"datum": 493.5},
            "text": {"field": "bIon"}
          }
        }
      ]
    },
    {
      "width": 110,
      "height": 341,
      "layer": [
        {
          "data": {"name": "corrScale"},
          "transform": [{"filter": "datum.value >= 0"}],
          "mark": {"type": "rule", "color": "#a8a8a8", "strokeWidth": 2},
          "encoding": {
            "x": {"datum": 0.47, "type": "quantitative", "scale": {"domain": [0, 1]}, "axis": null},
            "y": {"aggregate": "min", "field": "value", "type": "quantitative", "scale": {"domain": [0, 4.736], "nice": false},
              "axis": {"domain": false, "ticks": false, "labels": false, "title": "correlation coefficient", "titleFontSize": 10.5, "titleFontWeight": "bold", "titleColor": "#000000", "titleX": 25, "titleY": 341, "titleBaseline": "middle", "titleAngle": 270}},
            "y2": {"aggregate": "max", "field": "value"}
          }
        },
        {
          "data": {"name": "corrScale"},
          "transform": [{"filter": "datum.value >= 0"}],
          "mark": {"type": "tick", "orient": "horizontal", "size": 16, "thickness": 1.5, "color": "#a8a8a8"},
          "encoding": {
            "x": {"datum": 0.47, "type": "quantitative"},
            "y": {"field": "value", "type": "quantitative"}
          }
        },
        {
          "data": {"name": "corrScale"},
          "transform": [{"filter": "datum.value >= 0"}],
          "mark": {"type": "text", "align": "right", "baseline": "middle", "dx": -9, "fontSize": 10, "fontWeight": "bold", "color": "#222222"},
          "encoding": {
            "x": {"datum": 0.47, "type": "quantitative"},
            "y": {"field": "value", "type": "quantitative"},
            "text": {"field": "label"}
          }
        },
        {
          "data": {"name": "correlation"},
          "mark": {"type": "circle", "size": 64, "color": "#ff0000", "opacity": 1},
          "encoding": {
            "x": {"datum": 0.47, "type": "quantitative"},
            "y": {"field": "coefficient", "type": "quantitative"}
          }
        }
      ]
    },
    {
      "width": 306,
      "height": 341,
      "layer": [
        {
          "data": {"name": "chromatogram"},
          "transform": [{"filter": "datum.run === 'identification'"}],
          "mark": {"type": "line", "strokeWidth": 1.5, "clip": true},
          "encoding": {
            "x": {"field": "rt", "type": "quantitative", "scale": {"domain": [29.95, 31.578], "nice": false, "zero": false},
              "axis": {"orient": "top", "title": "Fragment ion chromatogram", "domain": false, "ticks": false, "labels": false, "titleFontSize": 19, "titleFontWeight": "bold", "titleColor": "#000000", "titleBaseline": "alphabetic", "titleY": 5}},
            "y": {"field": "intensity", "type": "quantitative", "scale": {"domain": [0, 100], "nice": false},
              "axis": {"domain": true, "domainColor": "#777777", "domainWidth": 1.5, "ticks": false, "labels": false, "title": "Intensity", "titleFontSize": 10, "titleFontWeight": "bold", "titleColor": "#000000", "titleX": -14, "titleY": 341, "titleBaseline": "middle", "titleAngle": 270}},
            "color": {"field": "trace", "type": "nominal", "scale": {"domain": ["trace 1", "trace 2", "trace 3", "trace 4", "trace 5", "trace 6", "trace 7", "trace 8"], "range": ["#2f9a2f", "#2ba6ab", "#e27a3c", "#ffd633", "#ffa31a", "#8e249f", "#9090e0", "#66d966"]}, "legend": null},
            "order": {"field": "rt", "type": "quantitative"}
          }
        },
        {
          "data": {"values": [{"intensity": 0}]},
          "mark": {"type": "rule", "color": "#777777", "strokeWidth": 1.5},
          "encoding": {"y": {"field": "intensity", "type": "quantitative"}}
        }
      ]
    },
    {
      "width": 688,
      "height": 337,
      "title": {"text": "Validation", "orient": "left", "anchor": "middle", "fontSize": 24, "fontWeight": "bold", "color": "#000000", "offset": 25},
      "resolve": {"scale": {"x": "independent"}},
      "layer": [
        {
          "data": {"name": "validation"},
          "transform": [{"filter": "datum.ion === 'unassigned'"}],
          "mark": {"type": "rule", "color": "#c6c6c6", "strokeWidth": 1},
          "encoding": {
            "x": {"field": "mz", "type": "quantitative", "scale": {"domain": [138.2, 977.6], "nice": false, "zero": false},
              "axis": {"orient": "bottom", "title": "m/z", "domain": false, "ticks": false, "labels": false, "titleFontSize": 19, "titleFontWeight": "bold", "titleColor": "#000000", "titleBaseline": "alphabetic", "titleY": -4}},
            "y": {"field": "intensity", "type": "quantitative", "scale": {"domain": [0, 151], "nice": false, "reverse": true},
              "axis": {"title": null,
                "values": [0, 5, 10, 15, 20, 25, 30, 35, 40, 45, 50, 55, 60, 65, 70, 75, 80, 85, 90, 95, 100, 105, 110, 115, 120, 125, 130, 135, 140, 145, 150],
                "tickCount": 100,
                "labelExpr": "datum.value % 20 === 0 && datum.value > 0 ? datum.label : ''",
                "labelFontSize": 11,
                "tickSize": {"condition": {"test": "datum.value % 20 === 0", "value": 5}, "value": 3},
                "domainColor": "#555555", "tickColor": "#555555", "labelColor": "#444444", "labelPadding": 3, "labelFlush": false, "labelOverlap": false, "labelBound": false}},
            "y2": {"datum": 0}
          }
        },
        {
          "data": {"name": "validation"},
          "transform": [{"filter": "datum.ion !== 'unassigned'"}],
          "mark": {"type": "rule", "strokeWidth": 1.4, "opacity": 0.8},
          "encoding": {
            "x": {"field": "mz", "type": "quantitative", "scale": {"domain": [138.2, 977.6], "nice": false, "zero": false}, "axis": null},
            "y": {"field": "intensity", "type": "quantitative"},
            "y2": {"datum": 0},
            "color": {"field": "ion", "type": "nominal", "scale": {"domain": ["y", "b", "internal"], "range": ["#3b3bff", "#e5322d", "#ff8a3d"]}, "legend": null}
          }
        },
        {
          "data": {"name": "validation"},
          "transform": [{"filter": "datum.star"}],
          "mark": {"type": "text", "text": "*", "fontSize": 12, "fontWeight": "bold", "color": "#e5322d", "dx": 4, "dy": 9, "baseline": "alphabetic", "align": "center"},
          "encoding": {
            "x": {"field": "mz", "type": "quantitative", "scale": {"domain": [138.2, 977.6], "nice": false, "zero": false}, "axis": null},
            "y": {"field": "intensity", "type": "quantitative"}
          }
        },
        {
          "data": {"name": "sequence"},
          "transform": [{"filter": "datum.yIon !== ''"}],
          "mark": {"type": "rule", "color": "#9a9a9a", "strokeWidth": 1},
          "encoding": {
            "x": {"field": "start", "type": "quantitative", "scale": {"domain": [-1.93, 43.93], "nice": false, "zero": false}, "axis": null},
            "y": {"datum": 136.1},
            "y2": {"datum": 144.6}
          }
        },
        {
          "data": {"name": "sequence"},
          "transform": [{"filter": "datum.yIon !== ''"}],
          "mark": {"type": "rule", "color": "#6b6bff", "strokeWidth": 1.2},
          "encoding": {
            "x": {"field": "start", "type": "quantitative", "scale": {"domain": [-1.93, 43.93], "nice": false, "zero": false}, "axis": null},
            "x2": {"field": "end"},
            "y": {"datum": 136.1}
          }
        },
        {
          "data": {"name": "sequence"},
          "transform": [{"filter": "datum.bIon !== ''"}],
          "mark": {"type": "rule", "color": "#f06a6a", "strokeWidth": 1.2},
          "encoding": {
            "x": {"field": "start", "type": "quantitative", "scale": {"domain": [-1.93, 43.93], "nice": false, "zero": false}, "axis": null},
            "x2": {"field": "end"},
            "y": {"datum": 144.6}
          }
        },
        {
          "data": {"name": "sequence"},
          "mark": {"type": "text", "fontSize": 15, "color": "#222222", "baseline": "alphabetic", "align": "center"},
          "encoding": {
            "x": {"field": "position", "type": "quantitative", "scale": {"domain": [-1.93, 43.93], "nice": false, "zero": false}, "axis": null},
            "y": {"datum": 143.6},
            "text": {"field": "residue"}
          }
        },
        {
          "data": {"name": "modification"},
          "mark": {"type": "text", "fontSize": 9, "color": "#222222", "baseline": "alphabetic", "align": "center", "dx": 6, "dy": -7},
          "encoding": {
            "x": {"field": "position", "type": "quantitative", "scale": {"domain": [-1.93, 43.93], "nice": false, "zero": false}, "axis": null},
            "y": {"datum": 143.6},
            "text": {"field": "symbol"}
          }
        },
        {
          "data": {"name": "sequence"},
          "mark": {"type": "text", "fontSize": 9.5, "color": "#4a4aff", "baseline": "alphabetic", "align": "center", "dy": -4},
          "encoding": {
            "x": {"field": "position", "type": "quantitative", "scale": {"domain": [-1.93, 43.93], "nice": false, "zero": false}, "axis": null},
            "y": {"datum": 136.1},
            "text": {"field": "yIon"}
          }
        },
        {
          "data": {"name": "sequence"},
          "mark": {"type": "text", "fontSize": 9.5, "color": "#e5322d", "baseline": "alphabetic", "align": "center", "dy": 9},
          "encoding": {
            "x": {"field": "position", "type": "quantitative", "scale": {"domain": [-1.93, 43.93], "nice": false, "zero": false}, "axis": null},
            "y": {"datum": 144.6},
            "text": {"field": "bIon"}
          }
        }
      ]
    },
    {
      "width": 110,
      "height": 337,
      "layer": [
        {
          "data": {"name": "corrScale"},
          "transform": [{"filter": "datum.value <= 0"}],
          "mark": {"type": "rule", "color": "#a8a8a8", "strokeWidth": 2},
          "encoding": {
            "x": {"datum": 0.47, "type": "quantitative", "scale": {"domain": [0, 1]}, "axis": null},
            "y": {"aggregate": "min", "field": "value", "type": "quantitative", "scale": {"domain": [-4.68, 0], "nice": false}, "axis": null},
            "y2": {"aggregate": "max", "field": "value"}
          }
        },
        {
          "data": {"name": "corrScale"},
          "transform": [{"filter": "datum.value < 0"}],
          "mark": {"type": "tick", "orient": "horizontal", "size": 16, "thickness": 1.5, "color": "#a8a8a8"},
          "encoding": {
            "x": {"datum": 0.47, "type": "quantitative"},
            "y": {"field": "value", "type": "quantitative"}
          }
        },
        {
          "data": {"name": "corrScale"},
          "transform": [{"filter": "datum.value < 0"}],
          "mark": {"type": "text", "align": "right", "baseline": "middle", "dx": -9, "fontSize": 10, "fontWeight": "bold", "color": "#222222"},
          "encoding": {
            "x": {"datum": 0.47, "type": "quantitative"},
            "y": {"field": "value", "type": "quantitative"},
            "text": {"field": "label"}
          }
        }
      ]
    },
    {
      "width": 306,
      "height": 337,
      "layer": [
        {
          "data": {"name": "chromatogram"},
          "transform": [{"filter": "datum.run === 'validation'"}],
          "mark": {"type": "line", "strokeWidth": 1.5, "clip": true},
          "encoding": {
            "x": {"field": "rt", "type": "quantitative", "scale": {"domain": [29.95, 31.578], "nice": false, "zero": false},
              "axis": {"orient": "bottom", "title": "Retention time", "domain": false, "ticks": false, "labels": false, "titleFontSize": 19, "titleFontWeight": "bold", "titleColor": "#000000", "titleBaseline": "alphabetic", "titleY": -4}},
            "y": {"field": "intensity", "type": "quantitative", "scale": {"domain": [0, 100], "nice": false, "reverse": true},
              "axis": {"domain": true, "domainColor": "#777777", "domainWidth": 1.5, "ticks": false, "labels": false, "title": null}},
            "color": {"field": "trace", "type": "nominal", "scale": {"domain": ["trace 1", "trace 2", "trace 3", "trace 4", "trace 5", "trace 6", "trace 7", "trace 8"], "range": ["#2f9a2f", "#2ba6ab", "#e27a3c", "#ffd633", "#ffa31a", "#8e249f", "#9090e0", "#66d966"]}, "legend": null},
            "order": {"field": "rt", "type": "quantitative"}
          }
        }
      ]
    }
  ]
}
